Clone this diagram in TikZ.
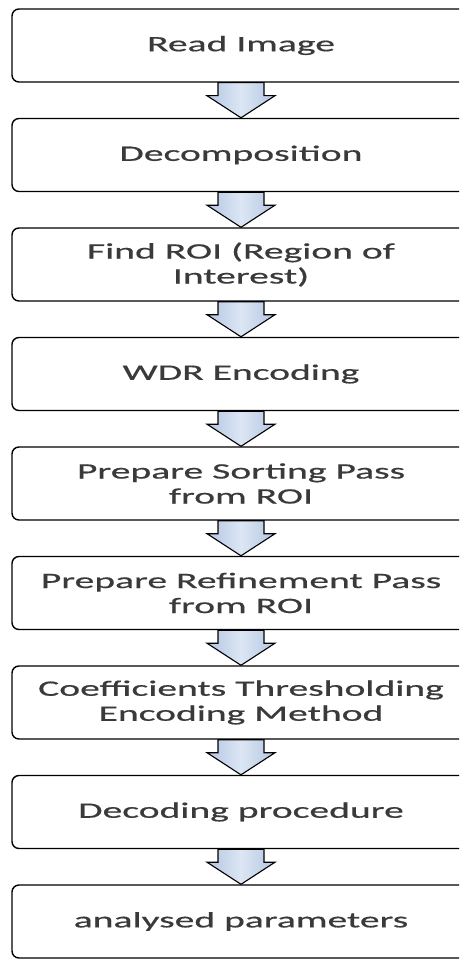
\documentclass[tikz,border=0pt]{standalone}
\usepackage{fontspec}
\setmainfont{Carlito}[FakeStretch=1.8,FakeBold=0.6]
\usetikzlibrary{calc}
\definecolor{boxtext}{HTML}{3A3A3A}
\definecolor{arrowedge}{HTML}{B4C6E2}
\definecolor{arrowmid}{HTML}{DCE6F4}
\tikzset{
  stepbox/.style={draw=black, line width=1.4pt, rounded corners=7pt, fill=white,
    minimum width=458pt, minimum height=73pt, inner sep=0pt, align=center,
    text=boxtext, font=\fontsize{22}{25}\selectfont},
  flowarrow/.style={draw=black, line width=1.1pt, line join=miter,
    left color=arrowedge, right color=arrowedge, middle color=arrowmid}
}
\newcommand{\flowarr}[2]{%
  \draw[flowarrow] ([xshift=-23pt]#1.south) -- ([xshift=-23pt,yshift=-13pt]#1.south)
    -- ([xshift=-34pt,yshift=-13pt]#1.south) -- (#2.north)
    -- ([xshift=34pt,yshift=-13pt]#1.south) -- ([xshift=23pt,yshift=-13pt]#1.south)
    -- ([xshift=23pt]#1.south) -- cycle;}
\begin{document}
\begin{tikzpicture}[x=1pt,y=-1pt]
\useasboundingbox (0,0) rectangle (459,960);
\fill[white] (0,0) rectangle (459,960);
\clip (0,0) rectangle (459,960);
\node[stepbox] (n1) at (241,45.5) {Read Image};
\node[stepbox] (n2) at (241,155) {Decomposition};
\node[stepbox] (n3) at (241,264.5) {Find ROI (Region of\\Interest)};
\node[stepbox] (n4) at (241,374) {WDR Encoding};
\node[stepbox] (n5) at (241,483.5) {Prepare Sorting Pass\\from ROI};
\node[stepbox] (n6) at (241,593) {Prepare Refinement Pass\\from ROI};
\node[stepbox] (n7) at (241,702.5) {Coefficients Thresholding\\Encoding Method};
\node[stepbox] (n8) at (241,812) {Decoding procedure};
\node[stepbox] (n9) at (241,921.5) {analysed parameters};
\flowarr{n1}{n2}
\flowarr{n2}{n3}
\flowarr{n3}{n4}
\flowarr{n4}{n5}
\flowarr{n5}{n6}
\flowarr{n6}{n7}
\flowarr{n7}{n8}
\flowarr{n8}{n9}
\end{tikzpicture}
\end{document}
